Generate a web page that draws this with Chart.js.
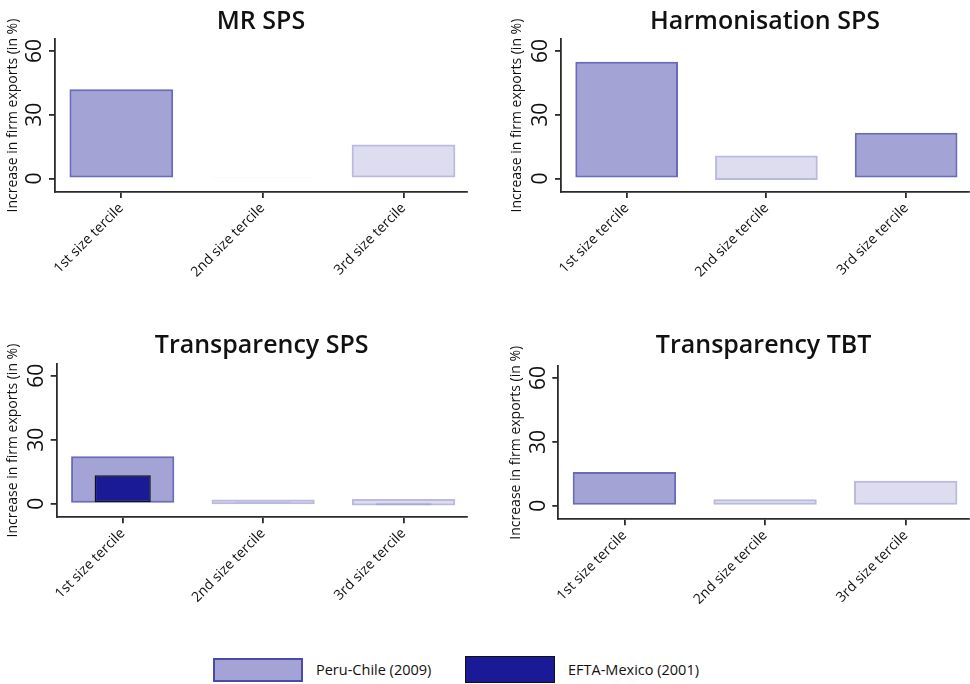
<!DOCTYPE html>
<html>
<head>
<meta charset="utf-8">
<script src="https://cdn.jsdelivr.net/npm/chart.js@4.4.1/dist/chart.umd.min.js"></script>
<style>
    html, body { margin: 0; padding: 0; background: #fff; }
    #wrap { position: relative; width: 970px; height: 684px; font-family: 'Open Sans', sans-serif; color: #111; }
    .panel { position: absolute; }
    .lg-box { position: absolute; box-sizing: border-box; }
    .lg-text { position: absolute; font-size: 14.5px; line-height: 20px; white-space: nowrap; }
</style>
</head>
<body>
<div id="wrap">
    <div class="panel" style="left:0;top:0;width:485px;height:320px"><canvas id="c0"></canvas></div>
    <div class="panel" style="left:485px;top:0;width:485px;height:320px"><canvas id="c1"></canvas></div>
    <div class="panel" style="left:0;top:320px;width:485px;height:300px"><canvas id="c2"></canvas></div>
    <div class="panel" style="left:485px;top:320px;width:485px;height:300px"><canvas id="c3"></canvas></div>

    <div class="lg-box" style="left:213px;top:658px;width:90px;height:24px;background:rgba(26,26,150,0.4);border:2px solid rgba(26,26,150,0.65)"></div>
    <div class="lg-text" id="lg0" style="left:316px;top:660px"></div>
    <div class="lg-box" style="left:465px;top:656px;width:90px;height:27px;background:#1a1a96;border:1.5px solid #111"></div>
    <div class="lg-text" id="lg1" style="left:568px;top:660px"></div>
</div>
<script>
    var categories = ['1st size tercile', '2nd size tercile', '3rd size tercile'];
    var panelTitles = ['MR SPS', 'Harmonisation SPS', 'Transparency SPS', 'Transparency TBT'];
    var seriesNames = ['Peru-Chile (2009)', 'EFTA-Mexico (2001)'];
    var yTicks = [0, 30, 60];

    // Peru-Chile (2009): bottom / top of each bar, one row per panel
    var peruLow  = [[0, 0, 0], [0, -0.8, 0], [0, -0.3, -0.9], [0, 0.5, 0.5]];
    var peruHigh = [[42, 0.6, 16], [55, 10.8, 21.5], [22.2, 1.9, 2.2], [15.8, 3, 11.7]];
    var peruSig  = [[1, 0, 0], [1, 0, 1], [1, 0, 0], [1, 0, 0]];

    // EFTA-Mexico (2001): only drawn in Transparency SPS
    var eftaLow  = [[null, null, null], [null, null, null], [0.7, 0, -0.9], [null, null, null]];
    var eftaHigh = [[null, null, null], [null, null, null], [13.3, 1, 0.5], [null, null, null]];
    var eftaSig  = [[0, 0, 0], [0, 0, 0], [1, 0, 0], [0, 0, 0]];

    var FONT = "'Open Sans', sans-serif";
    var AXIS = '#2b2b2b';

    // chart box geometry for each panel (px)
    var boxes = [
        {padL: 0,  yW: 55,   padR: 18,   xH: 128,   tTop: 6.6,  tBot: 2.6},
        {padL: 19, yW: 57,   padR: 1,    xH: 128,   tTop: 6.6,  tBot: 2.6},
        {padL: 0,  yW: 56.7, padR: 18.3, xH: 102.7, tTop: 10.6, tBot: 3.3},
        {padL: 18, yW: 55.3, padR: 1,    xH: 100.7, tTop: 10.6, tBot: 5.6}
    ];

    document.getElementById('lg0').textContent = seriesNames[0];
    document.getElementById('lg1').textContent = seriesNames[1];

    function barData(lo, hi) {
        return categories.map(function(c, i) {
            return {x: i + 1, y: lo[i] === null ? null : [lo[i], hi[i]]};
        });
    }

    function makePanel(p) {
        var b = boxes[p];
        var ctx = document.getElementById('c' + p).getContext('2d');
        return new Chart(ctx, {
            type: 'bar',
            data: {
                datasets: [
                    {
                        label: seriesNames[1],
                        order: 0,
                        grouped: false,
                        categoryPercentage: 1,
                        barPercentage: 0.4,
                        data: barData(eftaLow[p], eftaHigh[p]),
                        backgroundColor: eftaSig[p].map(function(s) { return s ? '#1a1a96' : 'rgba(26,26,150,0.2)'; }),
                        borderColor: eftaSig[p].map(function(s) { return s ? '#111' : 'rgba(26,26,150,0.12)'; }),
                        borderWidth: 1.5,
                        borderSkipped: false
                    },
                    {
                        label: seriesNames[0],
                        order: 1,
                        grouped: false,
                        categoryPercentage: 1,
                        barPercentage: 0.735,
                        data: barData(peruLow[p], peruHigh[p]),
                        backgroundColor: peruSig[p].map(function(s) { return s ? 'rgba(26,26,150,0.4)' : 'rgba(26,26,150,0.15)'; }),
                        borderColor: peruSig[p].map(function(s) { return s ? 'rgba(26,26,150,0.65)' : 'rgba(26,26,150,0.3)'; }),
                        borderWidth: 2,
                        borderSkipped: false
                    }
                ]
            },
            options: {
                responsive: true,
                maintainAspectRatio: false,
                animation: false,
                layout: {padding: {left: b.padL, right: b.padR, top: 0, bottom: 0}},
                plugins: {
                    legend: {display: false},
                    tooltip: {enabled: false},
                    title: {
                        display: true,
                        fullSize: false,
                        text: panelTitles[p],
                        color: '#111',
                        font: {family: FONT, size: 25, weight: '600'},
                        padding: {top: b.tTop, bottom: b.tBot}
                    }
                },
                scales: {
                    x: {
                        type: 'linear',
                        offset: false,
                        min: 0.53,
                        max: 3.45,
                        afterBuildTicks: function(s) {
                            s.ticks = categories.map(function(c, i) { return {value: i + 1}; });
                        },
                        afterFit: function(s) { s.height = b.xH; },
                        ticks: {
                            autoSkip: false,
                            minRotation: 45,
                            maxRotation: 45,
                            padding: 2,
                            color: '#111',
                            font: {family: FONT, size: 14},
                            callback: function(v) { return categories[v - 1]; }
                        },
                        grid: {offset: false, drawOnChartArea: false, drawTicks: true, tickLength: 6, color: AXIS, lineWidth: 1.8},
                        border: {display: true, color: AXIS, width: 1.8}
                    },
                    y: {
                        min: -6.4,
                        max: 65.6,
                        afterBuildTicks: function(s) {
                            s.ticks = yTicks.map(function(v) { return {value: v}; });
                        },
                        afterFit: function(s) { s.width = b.yW; },
                        ticks: {
                            minRotation: 90,
                            maxRotation: 90,
                            crossAlign: 'center',
                            padding: 1.5,
                            color: '#111',
                            font: {family: FONT, size: 21}
                        },
                        title: {
                            display: true,
                            text: 'Increase in firm exports (in %)',
                            color: '#111',
                            font: {family: FONT, size: 14},
                            padding: {top: 5, bottom: 0}
                        },
                        grid: {drawOnChartArea: false, drawTicks: true, tickLength: 6, color: AXIS, lineWidth: 1.8},
                        border: {display: true, color: AXIS, width: 1.8}
                    }
                }
            }
        });
    }

    for (var p = 0; p < 4; p++) {
        makePanel(p);
    }
</script>
</body>
</html>
